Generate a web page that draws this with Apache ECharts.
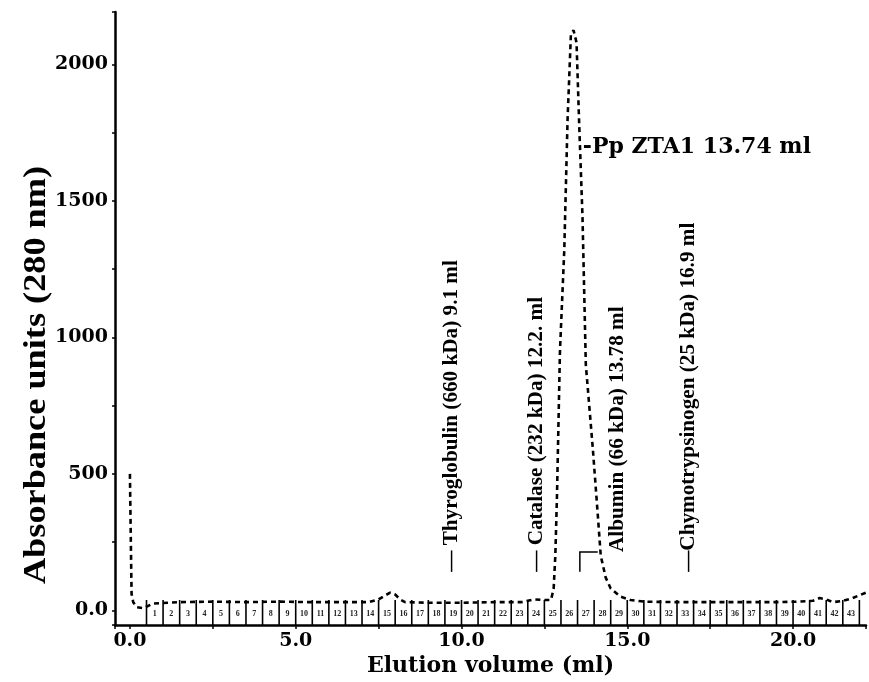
<!DOCTYPE html>
<html>
<head>
<meta charset="utf-8">
<script src="https://cdn.jsdelivr.net/npm/echarts@6/dist/echarts.min.js"></script>
<style>
html,body{margin:0;padding:0;background:#fff;}
#chart{width:869px;height:682px;}
</style>
</head>
<body>
<div id="chart"></div>
<script>
// ---- data ----
const elutionVolume = [0.0, 0.02, 0.05, 0.1, 0.2, 0.4, 0.7, 1.5, 2.5, 3.5, 4.5, 5.5, 6.5, 7.2, 7.5, 7.7, 7.85, 8.0, 8.15, 8.3, 9.0, 10.0, 11.0, 11.8, 12.2, 12.5, 12.7, 12.78, 12.83, 12.88, 12.97, 13.1, 13.2, 13.3, 13.38, 13.47, 13.55, 13.65, 13.75, 13.96, 14.11, 14.2, 14.35, 14.5, 14.8, 15.1, 15.5, 16.5, 17.5, 18.5, 19.5, 20.2, 20.6, 20.8, 21.0, 21.2, 21.5, 21.8, 22.0, 22.2];
const absorbance   = [500, 320, 60, 30, 12, 8, 25, 30, 32, 30, 32, 30, 30, 30, 40, 55, 65, 58, 40, 30, 28, 28, 30, 30, 40, 38, 38, 80, 200, 420, 950, 1320, 1800, 2110, 2125, 2080, 1780, 1440, 900, 594, 351, 200, 120, 80, 50, 38, 32, 30, 30, 30, 30, 32, 35, 45, 40, 30, 35, 45, 55, 65];

const fractionNumbers = [1,2,3,4,5,6,7,8,9,10,11,12,13,14,15,16,17,18,19,20,21,22,23,24,25,26,27,28,29,30,31,32,33,34,35,36,37,38,39,40,41,42,43];
const fractionStarts  = [0.5,1.0,1.5,2.0,2.5,3.0,3.5,4.0,4.5,5.0,5.5,6.0,6.5,7.0,7.5,8.0,8.5,9.0,9.5,10.0,10.5,11.0,11.5,12.0,12.5,13.0,13.5,14.0,14.5,15.0,15.5,16.0,16.5,17.0,17.5,18.0,18.5,19.0,19.5,20.0,20.5,21.0,21.5];
const lastFractionEnd = 22.0;

const xTickLabels = ['0.0', '5.0', '10.0', '15.0', '20.0'];
const yTickLabels = ['0.0', '500', '1000', '1500', '2000'];

const standardLabels = [
  '\u2014 Thyroglobulin (660 kDa) 9.1 ml',
  '\u2014 Catalase (232 kDa) 12.2. ml',
  'Albumin (66 kDa) 13.78 ml',
  '\u2014Chymotrypsinogen (25 kDa) 16.9 ml'
];
const sampleLabel = '-Pp ZTA1 13.74 ml';

// ---- layout (not data) ----
const X_MIN = -0.45, X_MAX = 22.2, Y_MIN = -54, Y_MAX = 2192;
const standardAnchors = [[9.70, 141], [12.28, 141], [14.71, 214], [16.85, 141]];
const standardScale = [1.06, 1.06, 1.06, 1.06];
const sampleAnchor = [13.66, 1696];
const bracketPts = [[13.57, 141], [13.57, 214], [14.11, 214]];

const lineData = elutionVolume.map((x, i) => [x, absorbance[i]]);
const fracData = fractionStarts.map((s, i) => [s, fractionNumbers[i], (fractionStarts[i+1] !== undefined ? fractionStarts[i+1] : lastFractionEnd)]);
fracData.push([lastFractionEnd, null, null]);

const chart = echarts.init(document.getElementById('chart'));
const serifBold = '"DejaVu Serif"';
const near = (v, m) => Math.abs(v / m - Math.round(v / m)) < 1e-6;

const option = {
  backgroundColor: '#fff',
  animation: false,
  grid: { left: 115, right: 0, top: 12, bottom: 50 },
  xAxis: {
    type: 'value', min: X_MIN, max: X_MAX, minInterval: 2.5, maxInterval: 2.5,
    axisLine: { show: true, onZero: false, lineStyle: { color: '#000', width: 2.5 } },
    axisTick: { show: true, length: 4, lineStyle: { color: '#000', width: 1.5 } },
    splitLine: { show: false },
    axisLabel: {
      color: '#000', fontFamily: serifBold, fontWeight: 'bold', fontSize: 19, margin: 6,
      formatter: v => { if (!near(v, 5) || v < 0) return ''; return xTickLabels[Math.round(v / 5)] || ''; }
    },
    name: 'Elution volume (ml)', nameLocation: 'middle', nameGap: 20,
    nameTextStyle: { color: '#000', fontFamily: serifBold, fontWeight: 'bold', fontSize: 22, verticalAlign: 'top' }
  },
  yAxis: {
    type: 'value', min: Y_MIN, max: Y_MAX, minInterval: 250, maxInterval: 250,
    axisLine: { show: true, onZero: false, lineStyle: { color: '#000', width: 2.5 } },
    axisTick: { show: true, length: 3, lineStyle: { color: '#000', width: 1.5 } },
    splitLine: { show: false },
    axisLabel: {
      color: '#000', fontFamily: serifBold, fontWeight: 'bold', fontSize: 19, margin: 7,
      formatter: v => { if (!near(v, 500) || v < 0) return ''; return yTickLabels[Math.round(v / 500)] || ''; }
    }
  },
  series: [
    {
      type: 'custom', z: 2, silent: true,
      data: fracData,
      renderItem: (params, api) => {
        const b = api.value(0);
        const n = api.value(1);
        const e = api.value(2);
        const pBot = api.coord([b, Y_MIN]);
        const pTop = api.coord([b, 38]);
        const children = [{
          type: 'line',
          shape: { x1: pBot[0], y1: pBot[1], x2: pTop[0], y2: pTop[1] },
          style: { stroke: '#000', lineWidth: 1.6 }
        }];
        if (!isNaN(n) && n !== null && !isNaN(e)) {
          const c = api.coord([(b + e) / 2, -14]);
          children.push({
            type: 'text',
            x: c[0], y: c[1],
            style: { text: String(n), fill: '#222', font: 'bold 8px "Liberation Serif"', align: 'center', verticalAlign: 'middle' }
          });
        }
        return { type: 'group', children };
      }
    },
    {
      type: 'line', data: lineData, symbol: 'none', z: 3, silent: true,
      lineStyle: { color: '#000', width: 2.6, type: [5, 4] }
    }
  ]
};
chart.setOption(option);

function px(p) { return chart.convertToPixel({ gridIndex: 0 }, p); }
const graphics = [];
// y-axis title
graphics.push({
  type: 'text', x: 37, y: 375, rotation: Math.PI / 2, scaleX: 1.17, scaleY: 1,
  style: { text: 'Absorbance units (280 nm)', fill: '#000', font: 'bold 31px "Liberation Serif"', align: 'center', verticalAlign: 'middle', textAlign: 'center', textVerticalAlign: 'middle' }
});
standardLabels.forEach((t, i) => {
  const p = px(standardAnchors[i]);
  graphics.push({
    type: 'text', x: p[0], y: p[1], rotation: Math.PI / 2, scaleX: standardScale[i], scaleY: 1,
    style: { text: t, fill: '#000', font: 'bold 20px "Liberation Serif"', align: 'left', verticalAlign: 'middle', textAlign: 'left', textVerticalAlign: 'middle' }
  });
});
const sp = px(sampleAnchor);
graphics.push({
  type: 'text', x: sp[0], y: sp[1],
  style: { text: sampleLabel, fill: '#000', font: 'bold 22px "DejaVu Serif"', align: 'left', verticalAlign: 'middle', textAlign: 'left', textVerticalAlign: 'middle' }
});
graphics.push({
  type: 'polyline',
  shape: { points: bracketPts.map(px) },
  style: { stroke: '#000', lineWidth: 1.5, fill: null }
});
chart.setOption({ graphic: graphics });
</script>
</body>
</html>
